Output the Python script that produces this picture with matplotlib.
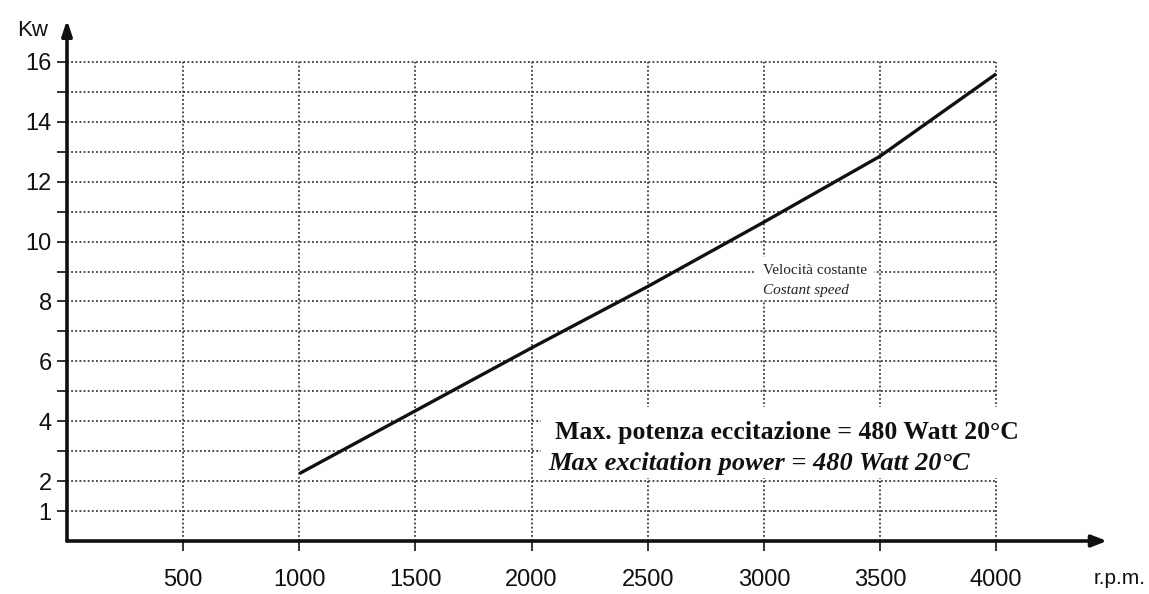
import matplotlib
matplotlib.use("Agg")
import matplotlib.pyplot as plt
from matplotlib.patches import Rectangle

# Data
rpm = [1000, 1500, 2000, 2500, 3000, 3500, 4000]
kw = [2.25, 4.35, 6.45, 8.5, 10.65, 12.85, 15.6]
x_ticks = [500, 1000, 1500, 2000, 2500, 3000, 3500, 4000]
y_major = [1, 2, 4, 6, 8, 10, 12, 14, 16]
y_minor = [3, 5, 7, 9, 11, 13, 15]
grid_y = list(range(1, 17))
grid_x = x_ticks

W, H = 1149, 594
fig = plt.figure(figsize=(W / 100, H / 100), dpi=100)
fig.patch.set_facecolor("white")
ax = fig.add_axes([67 / W, 1 - 541 / H, (1107 - 67) / W, (541 - 20) / H])
ax.set_xlim(0, 4477)
ax.set_ylim(0, 17.4)
for s in ax.spines.values():
    s.set_visible(False)

grid_kw = dict(color="#3a3a3a", lw=1.3, linestyle=(0, (1, 1.3)), zorder=1)
for g in grid_y:
    ax.plot([0, 4000], [g, g], **grid_kw)
for g in grid_x:
    ax.plot([g, g], [0, 16], **grid_kw)

# white mask behind the annotation block
ax.add_patch(Rectangle((2040, 2.12), 2420, 2.35, facecolor="white", edgecolor="none", zorder=2))

ax.plot(rpm, kw, color="#111111", lw=2.4, zorder=4, solid_capstyle="butt")

# axes arrows
ax.annotate("", xy=(1.0, 0), xytext=(0, 0), xycoords="axes fraction",
            arrowprops=dict(arrowstyle="-|>,head_length=0.9,head_width=0.35", lw=2.6, color="#111111",
                            shrinkA=0, shrinkB=0), zorder=5)
ax.annotate("", xy=(0, 1.0), xytext=(0, 0), xycoords="axes fraction",
            arrowprops=dict(arrowstyle="-|>,head_length=0.9,head_width=0.3", lw=2.6, color="#111111",
                            shrinkA=0, shrinkB=0), zorder=5)

ax.set_xticks(x_ticks)
ax.set_xticklabels([str(v) for v in x_ticks])
ax.set_yticks(y_major)
ax.set_yticklabels([str(v) for v in y_major])
ax.set_yticks(y_minor, minor=True)
ax.tick_params(axis="x", which="major", length=7, width=1.2, pad=13, labelsize=17, colors="#111111")
ax.tick_params(axis="y", which="both", length=7, width=1.2, pad=4, labelsize=17, colors="#111111")
for lab in ax.get_xticklabels() + ax.get_yticklabels():
    lab.set_fontfamily("Liberation Sans")

fig.text(33 / W, 1 - 30 / H, "Kw", ha="center", va="center", fontsize=16,
         family="Liberation Sans", color="#111111")
fig.text(1120 / W, 1 - 578 / H, "r.p.m.", ha="center", va="center", fontsize=15,
         family="Liberation Sans", color="#111111")

ax.text(2995, 9.03, "Velocità costante", ha="left", va="center", fontsize=11,
        family="Liberation Serif", color="#222222", zorder=6,
        bbox=dict(facecolor="white", edgecolor="none", pad=5))
ax.text(2995, 8.35, "Costant speed", ha="left", va="center", fontsize=11, style="italic",
        family="Liberation Serif", color="#222222", zorder=6,
        bbox=dict(facecolor="white", edgecolor="none", pad=2))

ax.text(2100, 3.62, "Max. potenza eccitazione = 480 Watt 20°C", ha="left", va="center",
        fontsize=18.5, fontweight="bold", family="Liberation Serif", color="#111111", zorder=6)
ax.text(2070, 2.6, "Max excitation power = 480 Watt 20°C", ha="left", va="center",
        fontsize=19, fontweight="bold", style="italic", family="Liberation Serif",
        color="#111111", zorder=6)

fig.savefig("out.png", dpi=100, facecolor="white")
